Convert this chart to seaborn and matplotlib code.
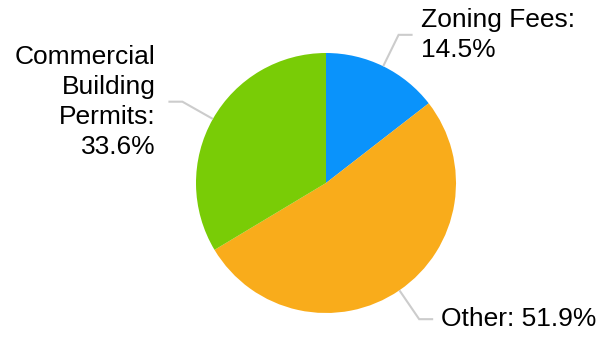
import numpy as np
import matplotlib
matplotlib.use("Agg")
import matplotlib.pyplot as plt
import seaborn as sns

categories = ["Zoning Fees", "Other", "Commercial\nBuilding\nPermits"]
shares = [14.5, 51.9, 33.6]
# what goes between the name and the value in each label
separators = ["\n", " ", "\n"]
colors = ["#0A93FB", "#F9AC1B", "#79CC06"]

sns.set_theme(style="white")
plt.rcParams["font.family"] = ["Liberation Sans", "DejaVu Sans"]

W, H = 597, 337
fig = plt.figure(figsize=(W / 100, H / 100), dpi=100)
ax = fig.add_axes([0, 0, 1, 1])

cx, cy, r = 326, H - 183, 130
wedges, _ = ax.pie(shares, colors=colors, startangle=90, counterclock=False,
                   center=(cx, cy), radius=r,
                   wedgeprops=dict(linewidth=0), frame=True)
ax.set_xlim(0, W)
ax.set_ylim(0, H)
ax.set_aspect("equal")
ax.axis("off")

# leader lines: radial segment out of each wedge, then a short horizontal tail
elbow_r, tail = 165, 14
for w, name, sep, val in zip(wedges, categories, separators, shares):
    mid = np.deg2rad((w.theta1 + w.theta2) / 2)
    x0, y0 = cx + r * np.cos(mid), cy + r * np.sin(mid)
    x1, y1 = cx + elbow_r * np.cos(mid), cy + elbow_r * np.sin(mid)
    side = 1 if np.cos(mid) >= 0 else -1
    gap = 8 if side > 0 else 13
    x2 = x1 + side * tail
    ax.plot([x0, x1, x2], [y0, y1, y1], color="#CCCCCC", lw=1.5,
            solid_capstyle="butt", solid_joinstyle="miter")
    ax.text(x2 + side * gap, y1, f"{name}:{sep}{val}%", fontsize=19,
            ha="left" if side > 0 else "right", va="center",
            multialignment="left" if side > 0 else "right",
            linespacing=1.32, color="#000000")

fig.savefig("out.png", dpi=100)
